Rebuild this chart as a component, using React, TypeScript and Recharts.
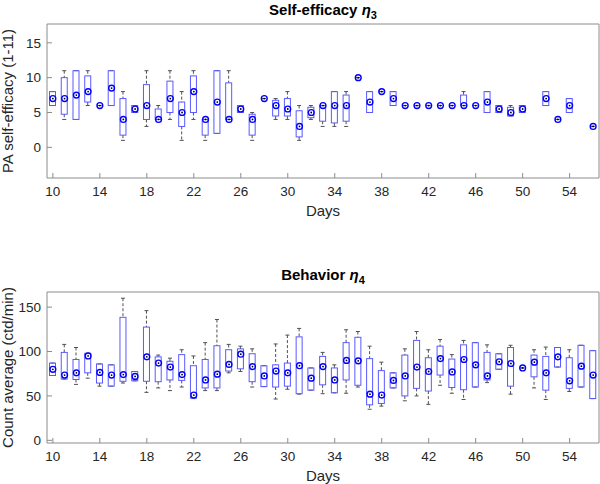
import React from 'react';
import { ComposedChart, Bar, Scatter, XAxis, YAxis } from 'recharts';

// ---------- shared axis values ----------
const xTicks = [10, 14, 18, 22, 26, 30, 34, 38, 42, 46, 50, 54];
const xDomain = [9.5, 56.5];

// ---------- Self-efficacy (top) ----------
const topDays = [10, 11, 12, 13, 14, 15, 16, 17, 18, 19, 20, 21, 22, 23, 24, 25, 26, 27, 28, 29, 30, 31, 32, 33, 34, 35, 36, 37, 38, 39, 40, 41, 42, 43, 44, 45, 46, 47, 48, 49, 50, 52, 53, 54, 56];
const topMin = [6, 4, 4, 6, 6, 6, 1, 5, 3, 4, 4, 1, 4, 1, 2, 4, 5, 1, 7, 4, 4, 1, 4, 3, 3, 3, 10, 5, 8, 6, 6, 6, 6, 6, 6, 6, 6, 5, 5, 4.5, 5, 6, 4, 5, 3];
const topQ1 = [6, 4.75, 4, 6.5, 6, 6, 1.75, 5, 4, 4, 5, 3, 5, 1.75, 2, 4, 5, 1.75, 7, 4.5, 4.5, 1.5, 4.25, 3.75, 3.5, 3.75, 10, 5, 8, 6, 6, 6, 6, 6, 6, 6, 6, 5, 5, 4.5, 5, 6, 4, 5, 3];
const topMed = [7, 7, 7.5, 8, 6, 8.5, 4, 5.5, 6, 4, 7, 5, 8, 4, 6.5, 4, 5.5, 4, 7, 6, 5.5, 3, 5, 6, 6, 6, 10, 6.5, 8, 7, 6, 6, 6, 6, 6, 6, 6, 6.5, 5.5, 5, 5.5, 7, 4, 6, 3];
const topQ3 = [8, 10, 11, 10.25, 6, 11, 7, 6, 9, 5.5, 9.5, 6.5, 10.25, 4, 11, 9.25, 6, 4.75, 7, 6.75, 7, 5.25, 5.75, 6, 8, 7.5, 10, 8, 8, 8, 6, 6, 6, 6, 6, 7.5, 6, 8, 6, 5.75, 6, 8, 4, 7, 3];
const topMax = [8, 11, 11, 11, 6, 11, 8, 6, 11, 6, 11, 8, 11, 4, 11, 11, 6, 5, 7, 7, 8, 6, 6, 6, 8, 8, 10, 8, 8, 8, 6, 6, 6, 6, 6, 8, 6, 8, 6, 6, 6, 8, 4, 7, 3];
const topYTicks = [0, 5, 10, 15];
const topYDomain = [-4.4, 17.7];

// ---------- Behavior (bottom) ----------
const botDays = [10, 11, 12, 13, 14, 15, 16, 17, 18, 19, 20, 21, 22, 23, 24, 25, 26, 27, 28, 29, 30, 31, 32, 33, 34, 35, 36, 37, 38, 39, 40, 41, 42, 43, 44, 45, 46, 47, 48, 49, 50, 51, 52, 53, 54, 55, 56];
const botMin = [73, 69, 63, 70, 61, 61, 64.5, 67, 54, 59, 56, 60, 47, 56, 56, 76, 77.5, 60, 60.5, 46.5, 57.5, 52, 56.5, 52.5, 53.5, 53, 60, 35, 38.5, 59, 44.5, 50, 40.5, 62, 53, 46, 60, 65, 80, 52, 81.5, 59, 46, 82.5, 55, 60, 47];
const botQ1 = [73, 69, 68.5, 76, 64.5, 61, 66.5, 67, 66.5, 66, 68, 67.5, 47.5, 59, 59, 78, 80.5, 66, 60.5, 60, 61, 52.5, 56.5, 62.5, 53.5, 68, 62, 40, 41.5, 59, 50, 58.5, 55.5, 73.5, 59.5, 57, 60, 68, 80, 61, 81.5, 71.5, 56.5, 82.5, 58.5, 60, 47];
const botMed = [80, 73.5, 76, 95, 76.5, 73.5, 74, 72, 94, 87, 82.5, 74, 51, 68, 74.5, 85.5, 97, 83, 72.5, 78, 76, 84, 70, 83, 68, 90, 89.5, 52, 51, 67.5, 72.5, 82.5, 77.5, 92, 77, 91, 85, 72.5, 88.5, 86.5, 81.5, 88, 76, 94, 67, 83.5, 73.5];
const botQ3 = [87, 99, 91, 98, 86, 85, 138.5, 77.5, 127.5, 94, 89, 96.5, 84, 91, 106.5, 102, 103, 97.5, 84, 85, 87, 116.5, 81.5, 94.5, 81.5, 110, 116, 92, 78.5, 76, 96, 112.5, 93, 106, 91.5, 107.5, 110, 99, 97.5, 104.5, 81.5, 96, 94.5, 104.5, 93, 107, 101];
const botMax = [87, 108, 104.5, 98, 86, 85, 160, 77.5, 146, 96, 92.5, 102, 95, 110, 136, 108, 106, 103, 84, 108.5, 118.5, 126, 81.5, 99, 85, 124.5, 122.5, 106, 88, 76, 103, 122.5, 102, 113.5, 96.5, 112.5, 110, 107.5, 97.5, 107, 81.5, 102, 105, 104.5, 102, 107, 101];
const botYTicks = [0, 50, 100, 150];
const botYDomain = [-3, 167];

const build = (days: number[], mn: number[], q1: number[], md: number[], q3: number[], mx: number[]) =>
  days.map((day, i) => ({ day, min: mn[i], q1: q1[i], med: md[i], q3: q3[i], max: mx[i] }));

const topData = build(topDays, topMin, topQ1, topMed, topQ3, topMax);
const botData = build(botDays, botMin, botQ1, botMed, botQ3, botMax);

// ---------- styles ----------
const FONT = '"Liberation Sans", Arial, Helvetica, sans-serif';
const AXIS = '#8c8c8c';
const TXT = '#262626';
const BOX = '#5a5aff';
const WH = '#505050';
const BAR = 7;

function BoxShape(props: any) {
  const { x, y, width, height } = props;
  if (x == null || y == null || width == null || height == null) return null;
  const top = Math.min(y, y + height);
  const h = Math.abs(height);
  return <rect x={x + 0.5} y={top} width={width - 1} height={h} fill="none" stroke={BOX} strokeWidth={1} />;
}

function UpperWhisker(props: any) {
  const { x, y, width, height } = props;
  if (x == null || y == null || width == null || height == null) return null;
  const cx = x + width / 2;
  const top = Math.min(y, y + height);
  const bot = Math.max(y, y + height);
  return (
    <g>
      {bot - top > 0.5 && <line x1={cx} x2={cx} y1={top} y2={bot} stroke={WH} strokeWidth={1} strokeDasharray="3 2" />}
      <line x1={cx - 2} x2={cx + 2} y1={top} y2={top} stroke={WH} strokeWidth={1} />
    </g>
  );
}

function LowerWhisker(props: any) {
  const { x, y, width, height } = props;
  if (x == null || y == null || width == null || height == null) return null;
  const cx = x + width / 2;
  const top = Math.min(y, y + height);
  const bot = Math.max(y, y + height);
  return (
    <g>
      {bot - top > 0.5 && <line x1={cx} x2={cx} y1={top} y2={bot} stroke={WH} strokeWidth={1} strokeDasharray="3 2" />}
      <line x1={cx - 2} x2={cx + 2} y1={bot} y2={bot} stroke={WH} strokeWidth={1} />
    </g>
  );
}

function MedianDot(props: any) {
  const { cx, cy } = props;
  if (cx == null || cy == null) return null;
  return (
    <g>
      <circle cx={cx} cy={cy} r={2.9} fill="none" stroke="#0000ff" strokeWidth={1.4} />
      <circle cx={cx} cy={cy} r={0.9} fill="#000" />
    </g>
  );
}

const tickStyle = { fill: TXT, fontSize: 13.5, fontFamily: FONT };

function makeTitle(main: string, sub: string, gap: number) {
  return (props: any) => {
    const vb = props.viewBox || {};
    const bottom = vb.y + (vb.height || 0);
    return (
      <text x={vb.x + vb.width / 2} y={bottom - gap} textAnchor="middle" fontFamily={FONT} fontSize={15} fontWeight="bold" fill="#000">
        {main + ' '}
        <tspan fontStyle="italic">η</tspan>
        <tspan fontSize={11} dy={4}>{sub}</tspan>
      </text>
    );
  };
}

function makeYLabel(label: string) {
  return (props: any) => {
    const vb = props.viewBox || {};
    const cx = (vb.x || 0) + 13;
    const cy = vb.y + vb.height / 2;
    return (
      <text x={cx} y={cy} transform={`rotate(-90 ${cx} ${cy})`} textAnchor="middle" fontFamily={FONT} fontSize={15} fill={TXT}>
        {label}
      </text>
    );
  };
}

const DaysLabel = (props: any) => {
  const vb = props.viewBox || {};
  return (
    <text x={vb.x + vb.width / 2} y={vb.y + 38} textAnchor="middle" fontFamily={FONT} fontSize={15} fill={TXT}>
      Days
    </text>
  );
};

function BoxChart(p: {
  data: any[]; yDomain: number[]; yTicks: number[]; title: string; sub: string; titleGap: number;
  yLabel: string; top: number; bottom: number;
}) {
  return (
    <ComposedChart
      width={600}
      height={242}
      data={p.data}
      margin={{ top: p.top - 1, right: 0, bottom: p.bottom, left: 0 }}
      barGap={-BAR}
    >
      <XAxis
        xAxisId="b" dataKey="day" type="number" domain={xDomain} ticks={xTicks} interval={0}
        allowDataOverflow height={40} tickSize={-5} tickMargin={13} stroke={AXIS}
        tick={tickStyle} label={DaysLabel}
      />
      <XAxis
        xAxisId="t" orientation="top" dataKey="day" type="number" domain={xDomain} ticks={xTicks}
        interval={0} allowDataOverflow height={1} tickSize={-5} stroke={AXIS} tick={false}
        label={makeTitle(p.title, p.sub, p.titleGap)}
      />
      <YAxis
        yAxisId="l" type="number" domain={p.yDomain} ticks={p.yTicks} interval={0} allowDataOverflow
        width={47} tickSize={-5} tickMargin={11} stroke={AXIS} tick={tickStyle}
        label={makeYLabel(p.yLabel)}
      />
      <YAxis
        yAxisId="r" orientation="right" type="number" domain={p.yDomain} ticks={p.yTicks} interval={0}
        allowDataOverflow width={1} tickSize={-5} stroke={AXIS} tick={false}
      />
      <Bar xAxisId="b" yAxisId="l" dataKey={(d: any) => [d.min, d.q1]} barSize={BAR} shape={LowerWhisker} isAnimationActive={false} />
      <Bar xAxisId="b" yAxisId="l" dataKey={(d: any) => [d.q3, d.max]} barSize={BAR} shape={UpperWhisker} isAnimationActive={false} />
      <Bar xAxisId="b" yAxisId="l" dataKey={(d: any) => [d.q1, d.q3]} barSize={BAR} shape={BoxShape} isAnimationActive={false} />
      <Scatter xAxisId="b" yAxisId="l" dataKey="med" shape={MedianDot} isAnimationActive={false} />
    </ComposedChart>
  );
}

export default function App() {
  return (
    <div style={{ position: 'absolute', left: 0, top: 0, width: 600, height: 484, background: '#fff' }}>
      <BoxChart
        data={topData} yDomain={topYDomain} yTicks={topYTicks} title="Self-efficacy" sub="3" titleGap={9}
        yLabel="PA self-efficacy (1-11)" top={24} bottom={24}
      />
      <BoxChart
        data={botData} yDomain={botYDomain} yTicks={botYTicks} title="Behavior" sub="4" titleGap={12}
        yLabel="Count average (ctd/min)" top={50} bottom={1}
      />
    </div>
  );
}
